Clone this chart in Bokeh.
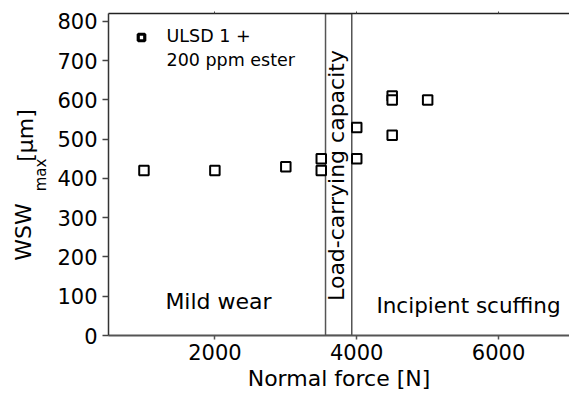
import math
from bokeh.plotting import figure
from bokeh.layouts import row
from bokeh.models import Range1d, LinearAxis, FixedTicker, Label
from bokeh.core.properties import value
from bokeh.embed import file_html
from bokeh.resources import INLINE

# Measured maximum wear scar width vs. normal force (ULSD 1 + 200 ppm ester)
normal_force = [1000, 2000, 3000, 3500, 3500, 4000, 4000, 4500, 4500, 4500, 5000]
wsw_max = [420, 420, 430, 450, 420, 530, 450, 610, 600, 510, 600]

# Load-carrying capacity transition band [N]
band_left = 3560
band_right = 3930

x_ticks = [2000, 4000, 6000]
y_ticks = [0, 100, 200, 300, 400, 500, 600, 700, 800]

series_label = ["ULSD 1 +", "200 ppm ester"]
region_labels = ["Mild wear", "Load-carrying capacity", "Incipient scuffing"]
x_title = "Normal force [N]"
y_title = ["WSW", "max", "[µm]"]

FONT = "DejaVu Sans"
X0, X1 = 500, 7000
Y0, Y1 = 0, 820
W, H = 569, 405
TITLE_W = 50                          # width of the y-title strip
FL, FR, FT, FB = 108, 569, 13, 335    # frame edges on the page, pixels


def px_x(px):
    return X0 + (px - FL) * (X1 - X0) / (FR - FL)


def px_y(py):
    return Y0 + (FB - py) * (Y1 - Y0) / (FB - FT)


def base_shift(size):
    # distance between the requested anchor and the drawn alphabetic baseline
    return 0.43 * size


# ---- main chart ----
p = figure(width=W - TITLE_W, height=H, output_backend="svg", toolbar_location=None,
           x_range=Range1d(X0, X1), y_range=Range1d(Y0, Y1),
           min_border_left=FL - TITLE_W, min_border_right=0, min_border_top=FT,
           min_border_bottom=H - FB)
p.outline_line_color = None
p.grid.visible = False
p.background_fill_color = "white"
p.border_fill_color = "white"

for ax in p.xaxis:
    ax.ticker = FixedTicker(ticks=x_ticks)
    ax.axis_line_color = "#555555"
    ax.axis_line_width = 2
    ax.major_tick_line_color = "#555555"
    ax.major_tick_line_width = 1.5
    ax.major_tick_out = 4
    ax.major_tick_in = 0
    ax.minor_tick_out = 0
    ax.minor_tick_in = 0
    ax.major_label_text_font = FONT
    ax.major_label_text_font_size = "21px"
    ax.major_label_text_color = "black"
    ax.major_label_standoff = 4
    ax.axis_label = x_title
    ax.axis_label_text_font = FONT
    ax.axis_label_text_font_size = "22px"
    ax.axis_label_text_font_style = "normal"
    ax.axis_label_text_color = "black"
    ax.axis_label_standoff = 3

for ax in p.yaxis:
    ax.ticker = FixedTicker(ticks=y_ticks)
    ax.axis_line_color = "#333333"
    ax.axis_line_width = 1.5
    ax.major_tick_line_color = "#444444"
    ax.major_tick_line_width = 1.5
    ax.major_tick_out = 6
    ax.major_tick_in = 0
    ax.minor_tick_out = 0
    ax.minor_tick_in = 0
    ax.major_label_text_font = FONT
    ax.major_label_text_font_size = "21px"
    ax.major_label_text_color = "black"
    ax.major_label_standoff = 5

# plain top border with tiny tick marks, no labels
top = LinearAxis(ticker=FixedTicker(ticks=x_ticks), major_label_text_font_size="1px",
                 major_label_text_color=None,
                 axis_line_color="#222222", axis_line_width=1.5,
                 major_tick_out=2, major_tick_in=0, major_tick_line_color="#444444",
                 minor_tick_out=0, minor_tick_in=0, major_label_standoff=0)
p.add_layout(top, "above")

# load-carrying capacity band
p.quad(left=[band_left], right=[band_right], bottom=[Y0], top=[Y1],
       fill_color=None, line_color="#555555", line_width=1.5)

# data points
p.scatter(normal_force, wsw_max, marker="square", size=9.5,
          fill_color="white", line_color="black", line_width=2)

# legend
p.scatter([px_x(141)], [px_y(37)], marker="square", size=6.5,
          fill_color="white", line_color="black", line_width=3.2)
for i, t in enumerate(series_label):
    p.add_layout(Label(x=px_x(166), y=px_y(43.3 + 23.5 * i - base_shift(17.5)), text=t,
                       text_font=FONT, text_font_size="17.5px",
                       text_baseline="alphabetic", text_align="left",
                       text_color="black"))

# region annotations
p.add_layout(Label(x=px_x(218), y=px_y(310.7 - base_shift(22)), text=region_labels[0],
                   text_font=FONT, text_font_size="22px", text_align="center",
                   text_baseline="alphabetic", text_color="black"))
p.add_layout(Label(x=px_x(346.7 - 11), y=px_y(175), text=region_labels[1],
                   angle=math.pi / 2, text_font=FONT, text_font_size="22px",
                   text_align="center", text_baseline="alphabetic",
                   text_color="black"))
p.add_layout(Label(x=px_x(468), y=px_y(314.3 - base_shift(21.5)), text=region_labels[2],
                   text_font=FONT, text_font_size="21.5px", text_align="center",
                   text_baseline="alphabetic", text_color="black"))

# ---- y-axis title strip: WSW with subscript "max" and unit ----
# its frame lines up with the main frame (FT..FB), so use page pixels counted from the bottom
t = figure(width=TITLE_W, height=H, output_backend="svg", toolbar_location=None,
           x_range=Range1d(0, TITLE_W), y_range=Range1d(H - FB, H - FT),
           min_border=0, x_axis_type=None, y_axis_type=None)
t.outline_line_color = None
t.grid.visible = False
t.background_fill_color = "white"
t.border_fill_color = "white"

title_sizes = [22, 15, 22]
title_base_x = [33.3, 47, 34.5]        # baseline position, pixels from the left
title_mid_y = [231.5, 174.5, 135]      # middle of each piece, pixels from the top
for txt, sz, bx, my in zip(y_title, title_sizes, title_base_x, title_mid_y):
    t.text(x=[bx - 0.45 * sz], y=[H - my], text=[txt], angle=math.pi / 2,
           text_font=value(FONT), text_font_size=f"{sz}px", text_align="center",
           text_baseline="alphabetic", text_color="black")

layout = row(t, p, spacing=0)
open("out.html", "w").write(file_html(layout, INLINE))
